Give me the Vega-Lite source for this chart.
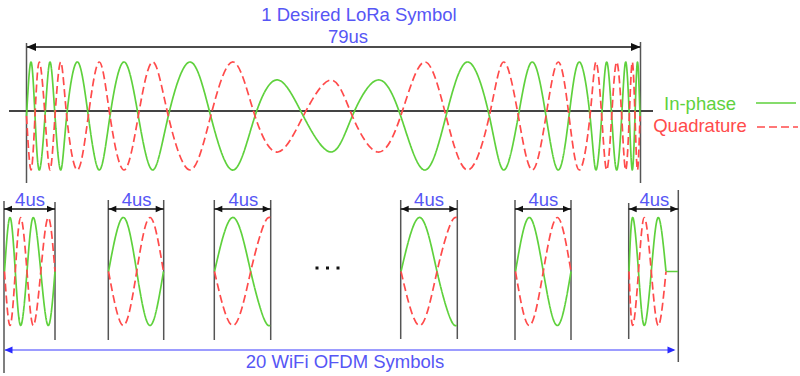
{
  "$schema": "https://vega.github.io/schema/vega-lite/v6.json",
  "width": 800,
  "height": 376,
  "autosize": "none",
  "padding": 0,
  "background": "white",
  "config": {"view": {"stroke": null}},
  "datasets": {
    "waves": [
      {"seg":"lora","s":"I","x":26.5,"y":116},{"seg":"lora","s":"I","x":31,"y":62},{"seg":"lora","s":"I","x":35,"y":116},{"seg":"lora","s":"I","x":39.3,"y":170},{"seg":"lora","s":"I","x":45,"y":116},{"seg":"lora","s":"I","x":50,"y":62},{"seg":"lora","s":"I","x":55,"y":116},{"seg":"lora","s":"I","x":60.7,"y":170},{"seg":"lora","s":"I","x":66.7,"y":116},{"seg":"lora","s":"I","x":77.3,"y":62},{"seg":"lora","s":"I","x":88.3,"y":116},{"seg":"lora","s":"I","x":99.3,"y":170},{"seg":"lora","s":"I","x":110,"y":116},{"seg":"lora","s":"I","x":124,"y":62},{"seg":"lora","s":"I","x":138.3,"y":116},{"seg":"lora","s":"I","x":152.7,"y":170},{"seg":"lora","s":"I","x":168.3,"y":116},{"seg":"lora","s":"I","x":190,"y":62},{"seg":"lora","s":"I","x":210.7,"y":116},{"seg":"lora","s":"I","x":233.3,"y":170},{"seg":"lora","s":"I","x":255,"y":116},{"seg":"lora","s":"I","x":278,"y":80},{"seg":"lora","s":"I","x":303.3,"y":116},{"seg":"lora","s":"I","x":331,"y":152},{"seg":"lora","s":"I","x":352.3,"y":116},{"seg":"lora","s":"I","x":377.7,"y":80},{"seg":"lora","s":"I","x":400.7,"y":116},{"seg":"lora","s":"I","x":424.3,"y":170},{"seg":"lora","s":"I","x":446,"y":116},{"seg":"lora","s":"I","x":467.7,"y":62},{"seg":"lora","s":"I","x":489.3,"y":116},{"seg":"lora","s":"I","x":503.8,"y":170},{"seg":"lora","s":"I","x":518.3,"y":116},{"seg":"lora","s":"I","x":532.3,"y":62},{"seg":"lora","s":"I","x":546,"y":116},{"seg":"lora","s":"I","x":558.3,"y":170},{"seg":"lora","s":"I","x":569,"y":116},{"seg":"lora","s":"I","x":579.3,"y":62},{"seg":"lora","s":"I","x":590,"y":116},{"seg":"lora","s":"I","x":596,"y":170},{"seg":"lora","s":"I","x":601.7,"y":116},{"seg":"lora","s":"I","x":606.7,"y":62},{"seg":"lora","s":"I","x":611.7,"y":116},{"seg":"lora","s":"I","x":616.7,"y":170},{"seg":"lora","s":"I","x":621.7,"y":116},{"seg":"lora","s":"I","x":625.7,"y":62},{"seg":"lora","s":"I","x":629.3,"y":116},{"seg":"lora","s":"I","x":632.3,"y":170},{"seg":"lora","s":"I","x":635,"y":116},{"seg":"lora","s":"I","x":637.5,"y":62},{"seg":"lora","s":"I","x":640,"y":116},
      {"seg":"lora","s":"Q","x":26.5,"y":116},{"seg":"lora","s":"Q","x":31,"y":170},{"seg":"lora","s":"Q","x":35,"y":116},{"seg":"lora","s":"Q","x":39.3,"y":62},{"seg":"lora","s":"Q","x":45,"y":116},{"seg":"lora","s":"Q","x":50,"y":170},{"seg":"lora","s":"Q","x":55,"y":116},{"seg":"lora","s":"Q","x":60.7,"y":62},{"seg":"lora","s":"Q","x":66.7,"y":116},{"seg":"lora","s":"Q","x":77.3,"y":170},{"seg":"lora","s":"Q","x":88.3,"y":116},{"seg":"lora","s":"Q","x":99.3,"y":62},{"seg":"lora","s":"Q","x":110,"y":116},{"seg":"lora","s":"Q","x":124,"y":170},{"seg":"lora","s":"Q","x":138.3,"y":116},{"seg":"lora","s":"Q","x":152.7,"y":62},{"seg":"lora","s":"Q","x":168.3,"y":116},{"seg":"lora","s":"Q","x":190,"y":170},{"seg":"lora","s":"Q","x":210.7,"y":116},{"seg":"lora","s":"Q","x":233.3,"y":62},{"seg":"lora","s":"Q","x":255,"y":116},{"seg":"lora","s":"Q","x":278,"y":152},{"seg":"lora","s":"Q","x":303.3,"y":116},{"seg":"lora","s":"Q","x":331,"y":80},{"seg":"lora","s":"Q","x":352.3,"y":116},{"seg":"lora","s":"Q","x":377.7,"y":152},{"seg":"lora","s":"Q","x":400.7,"y":116},{"seg":"lora","s":"Q","x":424.3,"y":62},{"seg":"lora","s":"Q","x":446,"y":116},{"seg":"lora","s":"Q","x":467.7,"y":170},{"seg":"lora","s":"Q","x":489.3,"y":116},{"seg":"lora","s":"Q","x":503.8,"y":62},{"seg":"lora","s":"Q","x":518.3,"y":116},{"seg":"lora","s":"Q","x":532.3,"y":170},{"seg":"lora","s":"Q","x":546,"y":116},{"seg":"lora","s":"Q","x":558.3,"y":62},{"seg":"lora","s":"Q","x":569,"y":116},{"seg":"lora","s":"Q","x":579.3,"y":170},{"seg":"lora","s":"Q","x":590,"y":116},{"seg":"lora","s":"Q","x":596,"y":62},{"seg":"lora","s":"Q","x":601.7,"y":116},{"seg":"lora","s":"Q","x":606.7,"y":170},{"seg":"lora","s":"Q","x":611.7,"y":116},{"seg":"lora","s":"Q","x":616.7,"y":62},{"seg":"lora","s":"Q","x":621.7,"y":116},{"seg":"lora","s":"Q","x":625.7,"y":170},{"seg":"lora","s":"Q","x":629.3,"y":116},{"seg":"lora","s":"Q","x":632.3,"y":62},{"seg":"lora","s":"Q","x":635,"y":116},{"seg":"lora","s":"Q","x":637.5,"y":170},{"seg":"lora","s":"Q","x":640,"y":116},
      {"seg":"w1","s":"I","x":4.5,"y":271.5},{"seg":"w1","s":"I","x":10,"y":217.5},{"seg":"w1","s":"I","x":15.3,"y":271.5},{"seg":"w1","s":"I","x":20.7,"y":325.5},{"seg":"w1","s":"I","x":27,"y":271.5},{"seg":"w1","s":"I","x":33.3,"y":217.5},{"seg":"w1","s":"I","x":40.8,"y":271.5},{"seg":"w1","s":"I","x":48.3,"y":325.5},{"seg":"w1","s":"I","x":55,"y":271.5},
      {"seg":"w1","s":"Q","x":4.5,"y":271.5},{"seg":"w1","s":"Q","x":10,"y":325.5},{"seg":"w1","s":"Q","x":15.3,"y":271.5},{"seg":"w1","s":"Q","x":20.7,"y":217.5},{"seg":"w1","s":"Q","x":27,"y":271.5},{"seg":"w1","s":"Q","x":33.3,"y":325.5},{"seg":"w1","s":"Q","x":40.8,"y":271.5},{"seg":"w1","s":"Q","x":48.3,"y":217.5},{"seg":"w1","s":"Q","x":55,"y":271.5},
      {"seg":"w2","s":"I","x":108.5,"y":271.5},{"seg":"w2","s":"I","x":123.3,"y":217.5},{"seg":"w2","s":"I","x":136.7,"y":271.5},{"seg":"w2","s":"I","x":150,"y":325.5},{"seg":"w2","s":"I","x":163.5,"y":271.5},
      {"seg":"w2","s":"Q","x":108.5,"y":271.5},{"seg":"w2","s":"Q","x":123.3,"y":325.5},{"seg":"w2","s":"Q","x":136.7,"y":271.5},{"seg":"w2","s":"Q","x":150,"y":217.5},{"seg":"w2","s":"Q","x":163.5,"y":271.5},
      {"seg":"w3","s":"I","x":214.5,"y":271.5},{"seg":"w3","s":"I","x":233.3,"y":217.5},{"seg":"w3","s":"I","x":250.7,"y":271.5},{"seg":"w3","s":"I","x":263.8,"y":318.3},{"seg":"w3","s":"I","x":270.3,"y":325.5},
      {"seg":"w3","s":"Q","x":214.5,"y":271.5},{"seg":"w3","s":"Q","x":233.3,"y":325.5},{"seg":"w3","s":"Q","x":250.7,"y":271.5},{"seg":"w3","s":"Q","x":263.8,"y":224.7},{"seg":"w3","s":"Q","x":270.3,"y":217.5},
      {"seg":"w4","s":"I","x":401,"y":271.5},{"seg":"w4","s":"I","x":420,"y":217.5},{"seg":"w4","s":"I","x":437,"y":271.5},{"seg":"w4","s":"I","x":450.2,"y":318.3},{"seg":"w4","s":"I","x":456.8,"y":325.5},
      {"seg":"w4","s":"Q","x":401,"y":271.5},{"seg":"w4","s":"Q","x":420,"y":325.5},{"seg":"w4","s":"Q","x":437,"y":271.5},{"seg":"w4","s":"Q","x":450.2,"y":224.7},{"seg":"w4","s":"Q","x":456.8,"y":217.5},
      {"seg":"w5","s":"I","x":515.5,"y":271.5},{"seg":"w5","s":"I","x":529.3,"y":217.5},{"seg":"w5","s":"I","x":543.3,"y":271.5},{"seg":"w5","s":"I","x":557.3,"y":325.5},{"seg":"w5","s":"I","x":571,"y":271.5},
      {"seg":"w5","s":"Q","x":515.5,"y":271.5},{"seg":"w5","s":"Q","x":529.3,"y":325.5},{"seg":"w5","s":"Q","x":543.3,"y":271.5},{"seg":"w5","s":"Q","x":557.3,"y":217.5},{"seg":"w5","s":"Q","x":571,"y":271.5},
      {"seg":"w6","s":"I","x":629,"y":271.5},{"seg":"w6","s":"I","x":632.7,"y":217.5},{"seg":"w6","s":"I","x":638.5,"y":271.5},{"seg":"w6","s":"I","x":644.3,"y":325.5},{"seg":"w6","s":"I","x":651.3,"y":271.5},{"seg":"w6","s":"I","x":658.3,"y":217.5},{"seg":"w6","s":"I","x":666,"y":271.5},
      {"seg":"w6flat","s":"I","x":666,"y":271.5},{"seg":"w6flat","s":"I","x":678,"y":271.5},
      {"seg":"w6","s":"Q","x":629,"y":271.5},{"seg":"w6","s":"Q","x":632.7,"y":325.5},{"seg":"w6","s":"Q","x":638.5,"y":271.5},{"seg":"w6","s":"Q","x":644.3,"y":217.5},{"seg":"w6","s":"Q","x":651.3,"y":271.5},{"seg":"w6","s":"Q","x":658.3,"y":325.5},{"seg":"w6","s":"Q","x":666,"y":271.5}
    ],
    "vlines": [
      {"x":26.5,"y":43,"y2":183},{"x":640.5,"y":42,"y2":183},
      {"x":4,"y":201,"y2":373},{"x":55,"y":202,"y2":340},
      {"x":108.3,"y":200,"y2":340},{"x":163.7,"y":200,"y2":340},
      {"x":214.3,"y":200,"y2":340},{"x":270.7,"y":200,"y2":340},
      {"x":400.7,"y":200,"y2":339},{"x":457.3,"y":200,"y2":339},
      {"x":515,"y":200,"y2":340},{"x":571,"y":200,"y2":340},
      {"x":628.7,"y":203,"y2":339},{"x":678.3,"y":190,"y2":362}
    ],
    "hlines": [
      {"kind":"axis","x":9,"x2":653,"y":111},
      {"kind":"dim","x":27,"x2":640,"y":47},
      {"kind":"dim","x":4,"x2":55,"y":209},
      {"kind":"dim","x":108.3,"x2":163.7,"y":209},
      {"kind":"dim","x":214.3,"x2":270.7,"y":209},
      {"kind":"dim","x":400.7,"x2":457.3,"y":209},
      {"kind":"dim","x":515,"x2":571,"y":209},
      {"kind":"dim","x":628.7,"x2":678.3,"y":209},
      {"kind":"wifi","x":5,"x2":674,"y":350}
    ],
    "heads": [
      {"kind":"lora","dir":"L","x":26.5,"y":47},{"kind":"lora","dir":"R","x":640.5,"y":47},
      {"kind":"sym","dir":"L","x":4.5,"y":209},{"kind":"sym","dir":"R","x":54.5,"y":209},
      {"kind":"sym","dir":"L","x":108.8,"y":209},{"kind":"sym","dir":"R","x":163.2,"y":209},
      {"kind":"sym","dir":"L","x":214.8,"y":209},{"kind":"sym","dir":"R","x":270.2,"y":209},
      {"kind":"sym","dir":"L","x":401.2,"y":209},{"kind":"sym","dir":"R","x":456.8,"y":209},
      {"kind":"sym","dir":"L","x":515.5,"y":209},{"kind":"sym","dir":"R","x":570.5,"y":209},
      {"kind":"sym","dir":"L","x":629.2,"y":209},{"kind":"sym","dir":"R","x":677.8,"y":209},
      {"kind":"wifi","dir":"L","x":4.5,"y":350},{"kind":"wifi","dir":"R","x":675.5,"y":350}
    ],
    "labels": [
      {"t":"1 Desired LoRa Symbol","x":359,"y":20.5},
      {"t":"79us","x":348,"y":43},
      {"t":"4us","x":30,"y":206},
      {"t":"4us","x":136.7,"y":206},
      {"t":"4us","x":243.3,"y":206},
      {"t":"4us","x":429,"y":206},
      {"t":"4us","x":543.3,"y":206},
      {"t":"4us","x":654.3,"y":206},
      {"t":"20 WiFi OFDM Symbols","x":345,"y":368}
    ],
    "legtext": [
      {"t":"In-phase","s":"I","x":700,"y":110},
      {"t":"Quadrature","s":"Q","x":700,"y":132}
    ],
    "legline": [
      {"s":"I","x":756,"x2":796,"y":103},
      {"s":"Q","x":757,"x2":798,"y":127}
    ],
    "dots": [
      {"x":317,"y":268},{"x":327.5,"y":268},{"x":338,"y":268}
    ]
  },
  "encoding": {
    "x": {"field":"x","type":"quantitative","scale":{"domain":[0,800],"nice":false,"zero":false},"axis":null},
    "y": {"field":"y","type":"quantitative","scale":{"domain":[0,376],"nice":false,"zero":false,"reverse":true},"axis":null}
  },
  "layer": [
    {
      "data": {"name":"vlines"},
      "mark": {"type":"rule","color":"#555555","strokeWidth":1.5},
      "encoding": {"y2": {"field":"y2"}}
    },
    {
      "data": {"name":"hlines"},
      "transform": [{"filter":"datum.kind === 'axis'"}],
      "mark": {"type":"rule","color":"#444444","strokeWidth":1.8},
      "encoding": {"x2": {"field":"x2"}}
    },
    {
      "data": {"name":"hlines"},
      "transform": [{"filter":"datum.kind === 'dim'"}],
      "mark": {"type":"rule","color":"#111111","strokeWidth":1.3},
      "encoding": {"x2": {"field":"x2"}}
    },
    {
      "data": {"name":"hlines"},
      "transform": [{"filter":"datum.kind === 'wifi'"}],
      "mark": {"type":"rule","color":"#3a3aff","strokeWidth":1.2},
      "encoding": {"x2": {"field":"x2"}}
    },
    {
      "data": {"name":"waves"},
      "mark": {"type":"line","interpolate":"natural","strokeWidth":1.7},
      "encoding": {
        "detail": {"field":"seg","type":"nominal"},
        "color": {"field":"s","type":"nominal","scale":{"domain":["I","Q"],"range":["#5fd13d","#ff4b4b"]},"legend":null},
        "strokeDash": {"field":"s","type":"nominal","scale":{"domain":["I","Q"],"range":[[1,0],[8,4]]},"legend":null}
      }
    },
    {
      "data": {"name":"legline"},
      "mark": {"type":"rule","strokeWidth":1.7},
      "encoding": {
        "x2": {"field":"x2"},
        "color": {"field":"s","type":"nominal","scale":{"domain":["I","Q"],"range":["#5fd13d","#ff4b4b"]},"legend":null},
        "strokeDash": {"field":"s","type":"nominal","scale":{"domain":["I","Q"],"range":[[1,0],[8,4]]},"legend":null}
      }
    },
    {
      "data": {"name":"heads"},
      "transform": [{"filter":"datum.kind === 'lora'"}],
      "mark": {"type":"point","filled":true,"color":"#111111","opacity":1,"size":90,"strokeWidth":0},
      "encoding": {"shape": {"field":"dir","type":"nominal","scale":{"domain":["L","R"],"range":["M0,0L2,-0.85L2,0.85Z","M0,0L-2,-0.85L-2,0.85Z"]},"legend":null}}
    },
    {
      "data": {"name":"heads"},
      "transform": [{"filter":"datum.kind === 'sym'"}],
      "mark": {"type":"point","filled":true,"color":"#111111","opacity":1,"size":56,"strokeWidth":0},
      "encoding": {"shape": {"field":"dir","type":"nominal","scale":{"domain":["L","R"],"range":["M0,0L2,-0.85L2,0.85Z","M0,0L-2,-0.85L-2,0.85Z"]},"legend":null}}
    },
    {
      "data": {"name":"heads"},
      "transform": [{"filter":"datum.kind === 'wifi'"}],
      "mark": {"type":"point","filled":true,"color":"#2a2aff","opacity":1,"size":64,"strokeWidth":0},
      "encoding": {"shape": {"field":"dir","type":"nominal","scale":{"domain":["L","R"],"range":["M0,0L2,-0.85L2,0.85Z","M0,0L-2,-0.85L-2,0.85Z"]},"legend":null}}
    },
    {
      "data": {"name":"labels"},
      "mark": {"type":"text","font":"Liberation Sans","fontSize":18.5,"align":"center","baseline":"alphabetic","color":"#5656f5"},
      "encoding": {"text": {"field":"t"}}
    },
    {
      "data": {"name":"legtext"},
      "mark": {"type":"text","font":"Liberation Sans","fontSize":18.5,"align":"center","baseline":"alphabetic"},
      "encoding": {
        "text": {"field":"t"},
        "color": {"field":"s","type":"nominal","scale":{"domain":["I","Q"],"range":["#5fd13d","#ff4b4b"]},"legend":null}
      }
    },
    {
      "data": {"name":"dots"},
      "mark": {"type":"point","shape":"square","filled":true,"color":"#111111","opacity":1,"size":9}
    }
  ]
}
